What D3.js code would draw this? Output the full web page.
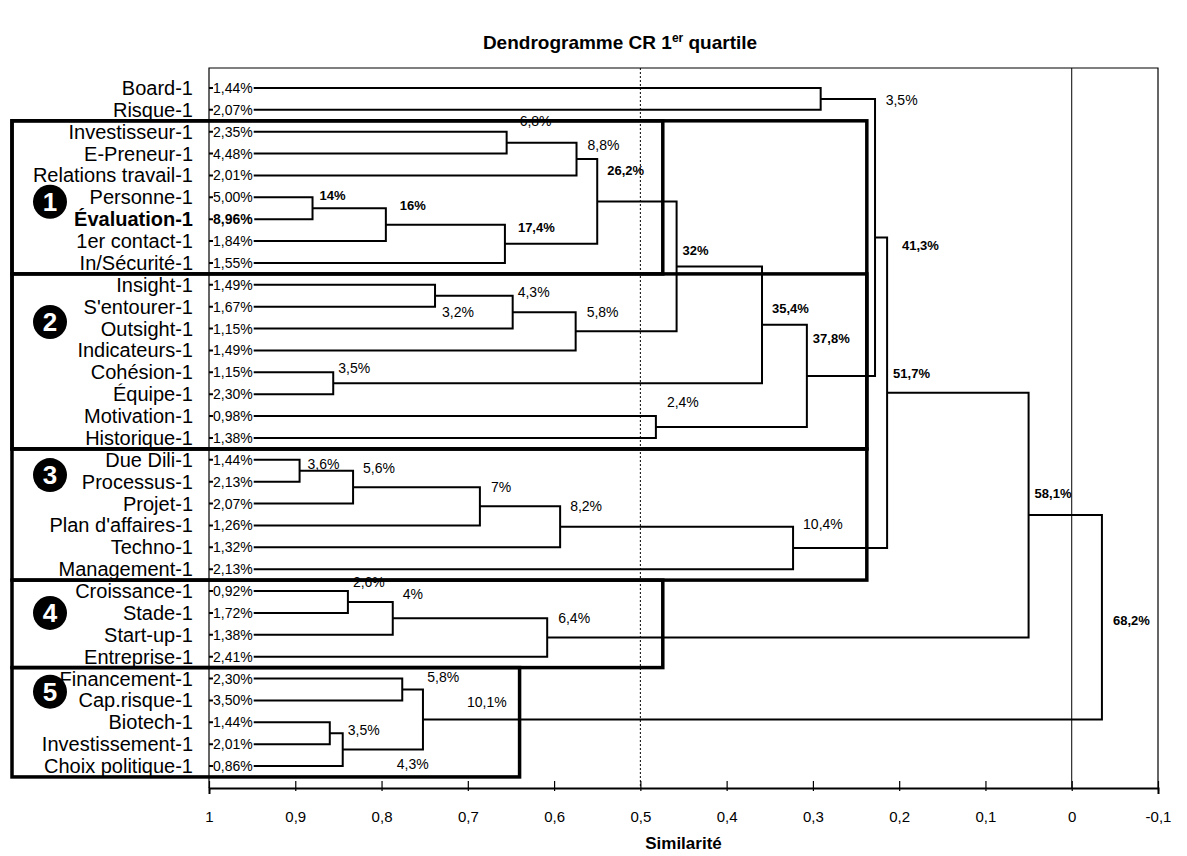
<!DOCTYPE html>
<html>
<head>
<meta charset="utf-8">
<script src="https://cdn.jsdelivr.net/npm/d3@7"></script>
<style>
  body { margin: 0; background: #fff; }
  text { font-family: "Liberation Sans", Arial, sans-serif; fill: #000; }
</style>
</head>
<body>
<div id="chart"></div>
<script>
// feuilles du dendrogramme (ordre d'affichage, de haut en bas)
const leaves = ["Board-1", "Risque-1", "Investisseur-1", "E-Preneur-1", "Relations travail-1",
  "Personne-1", "Évaluation-1", "1er contact-1", "In/Sécurité-1", "Insight-1", "S'entourer-1",
  "Outsight-1", "Indicateurs-1", "Cohésion-1", "Équipe-1", "Motivation-1", "Historique-1",
  "Due Dili-1", "Processus-1", "Projet-1", "Plan d'affaires-1", "Techno-1", "Management-1",
  "Croissance-1", "Stade-1", "Start-up-1", "Entreprise-1", "Financement-1", "Cap.risque-1",
  "Biotech-1", "Investissement-1", "Choix politique-1"]
const leafPct = ["1,44%", "2,07%", "2,35%", "4,48%", "2,01%", "5,00%", "8,96%", "1,84%", "1,55%",
  "1,49%", "1,67%", "1,15%", "1,49%", "1,15%", "2,30%", "0,98%", "1,38%", "1,44%", "2,13%",
  "2,07%", "1,26%", "1,32%", "2,13%", "0,92%", "1,72%", "1,38%", "2,41%", "2,30%", "3,50%",
  "1,44%", "2,01%", "0,86%"]
const boldLeaves = ["Évaluation-1"]

// fusions : indices 0-31 = feuilles, 32+ = noeuds (dans l'ordre de cette liste)
const merges = [[17, 18], [32, 19], [5, 6], [13, 14], [29, 30], [36, 31], [23, 24], [34, 7],
  [38, 25], [27, 28], [41, 37], [9, 10], [33, 20], [2, 3], [39, 8], [43, 11], [44, 21], [40, 26],
  [45, 4], [47, 12], [50, 46], [15, 16], [52, 51], [54, 35], [48, 22], [55, 53], [0, 1], [58, 57],
  [59, 56], [60, 49], [61, 42]]
const mergeSim = [0.895, 0.833, 0.880, 0.856, 0.860, 0.845, 0.839, 0.795, 0.787, 0.776, 0.752,
  0.738, 0.686, 0.655, 0.657, 0.648, 0.593, 0.608, 0.574, 0.575, 0.550, 0.482, 0.458, 0.359,
  0.323, 0.307, 0.291, 0.228, 0.214, 0.050, -0.035]
const mergeLabels = ["3,6%", "5,6%", "14%", "3,5%", "3,5%", "4,3%", "2,6%", "16%", "4%", "5,8%",
  "10,1%", "3,2%", "7%", "6,8%", "17,4%", "4,3%", "8,2%", "6,4%", "8,8%", "5,8%", "26,2%", "2,4%",
  "32%", "35,4%", "10,4%", "37,8%", "3,5%", "41,3%", "51,7%", "58,1%", "68,2%"]
const boldLabels = ["14%", "16%", "17,4%", "26,2%", "32%", "35,4%", "37,8%", "41,3%", "51,7%", "58,1%", "68,2%"]

// groupes encadrés : première / dernière feuille, coupure de similarité (bord droit)
const groupNames = ["1", "", "2", "3", "4", "5"]
const groupFrom = [2, 2, 9, 17, 23, 27]
const groupTo = [8, 16, 16, 22, 26, 31]
const groupCut = [0.474, 0.2375, 0.2375, 0.2375, 0.474, 0.64]

const xTicks = [1, 0.9, 0.8, 0.7, 0.6, 0.5, 0.4, 0.3, 0.2, 0.1, 0, -0.1]

// --- mise en page ---
const W = 1187, H = 856
const PLOT = { LEFT: 209, RIGHT: 1158, TOP: 68, BOTTOM: 788 }
// décalages des étiquettes de noeuds [dx, dy] par rapport au milieu du noeud
const labelOffsets = [[8, -2], [10, -14], [7, -8], [5, -10], [18, 2], [54, 19], [5, -15], [14, -15],
  [10, -19], [25, -7], [44, -13], [7, 21], [11, -14], [13, -17], [13, -12], [5, -15], [10, -16],
  [11, -15], [11, -9], [11, -14], [10, -26], [11, -20], [6, -11], [10, -12], [10, -19], [6, -33],
  [65, 6], [27, 13], [6, -15], [6, -17], [11, 8]]
const badgeRows = [5.2, null, 10.7, 17.7, 24, 27.6]

const svg = d3.select("#chart").append("svg")
  .attr("width", W)
  .attr("height", H)

const x = d3.scaleLinear().domain([1, -0.1]).range([PLOT.LEFT, PLOT.RIGHT])
const y = d3.scalePoint().domain(leaves).range([88, 766])
const step = y.step()

// titre
const title = svg.append("text")
  .attr("x", 620).attr("y", 49)
  .attr("text-anchor", "middle")
  .attr("font-size", "19px").attr("font-weight", "bold")
title.append("tspan").text("Dendrogramme CR 1")
title.append("tspan").attr("font-size", "12px").attr("dy", -7).text("er")
title.append("tspan").attr("dy", 7).text(" quartile")

// cadre du graphique
const frame = svg.append("g").attr("stroke", "#000").attr("fill", "none")
frame.append("path")
  .attr("stroke-width", 1.2)
  .attr("d", `M${PLOT.LEFT},${PLOT.BOTTOM}V${PLOT.TOP}H${PLOT.RIGHT}V${PLOT.BOTTOM}`)
frame.append("line")
  .attr("x1", x(0.5)).attr("x2", x(0.5)).attr("y1", PLOT.TOP).attr("y2", PLOT.BOTTOM)
  .attr("stroke-width", 1).attr("stroke-dasharray", "2,2")
frame.append("line")
  .attr("x1", x(0)).attr("x2", x(0)).attr("y1", PLOT.TOP).attr("y2", PLOT.BOTTOM)
  .attr("stroke-width", 1)

// axe des X
const xAxis = d3.axisBottom(x)
  .tickValues(xTicks)
  .tickFormat(d => String(+d.toFixed(1)).replace(".", ","))
const gx = svg.append("g")
  .attr("transform", `translate(0, ${PLOT.BOTTOM})`)
  .call(xAxis)
gx.select(".domain").attr("stroke-width", 2)
gx.selectAll(".tick line").attr("y1", -7).attr("y2", 3).attr("stroke-width", 1.2)
gx.selectAll(".tick text")
  .attr("y", 23)
  .attr("font-size", "15px")
  .attr("font-family", "Liberation Sans, Arial, sans-serif")
  .attr("fill", "#000")

svg.append("text")
  .attr("x", (PLOT.LEFT + PLOT.RIGHT) / 2).attr("y", 849)
  .attr("text-anchor", "middle")
  .attr("font-size", "17px").attr("font-weight", "bold")
  .text("Similarité")

// positions des noeuds
const nodes = leaves.map((name, i) => ({ x: x(1), y: y(name) }))
merges.forEach(([a, b], i) => {
  nodes.push({ x: x(mergeSim[i]), y: (nodes[a].y + nodes[b].y) / 2, a, b })
})

// branches
const links = svg.append("g").attr("stroke", "#000").attr("stroke-width", 2).attr("fill", "none")
merges.forEach(([a, b], i) => {
  const n = nodes[leaves.length + i]
  const A = nodes[a], B = nodes[b]
  links.append("path")
    .attr("d", `M${A.x},${A.y}H${n.x}V${B.y}H${B.x}`)
})

// pourcentages des feuilles
const leafG = svg.append("g")
leaves.forEach((name, i) => {
  const t = leafG.append("text")
    .attr("x", x(1) + 4).attr("y", y(name) + 5)
    .attr("font-family", "DejaVu Sans, sans-serif")
    .attr("font-size", "14px")
    .attr("font-weight", boldLeaves.includes(name) ? "bold" : "normal")
    .text(leafPct[i])
  const bb = t.node().getBBox()
  leafG.insert("rect", "text")
    .attr("x", bb.x).attr("y", y(name) - 7)
    .attr("width", bb.width + 1).attr("height", 14)
    .attr("fill", "#fff")
})

// étiquettes des noeuds
merges.forEach((m, i) => {
  const n = nodes[leaves.length + i]
  const bold = boldLabels.includes(mergeLabels[i])
  svg.append("text")
    .attr("x", n.x + labelOffsets[i][0])
    .attr("y", n.y + labelOffsets[i][1])
    .attr("font-size", bold ? "13px" : "14px")
    .attr("font-weight", bold ? "bold" : "normal")
    .text(mergeLabels[i])
})

// noms des feuilles
svg.append("g").selectAll("text")
  .data(leaves)
  .join("text")
  .attr("x", 193).attr("y", d => y(d) + 7)
  .attr("text-anchor", "end")
  .attr("font-size", "20px")
  .attr("font-weight", d => boldLeaves.includes(d) ? "bold" : "normal")
  .text(d => d)

// cadres des groupes
const boxes = svg.append("g").attr("stroke", "#000").attr("stroke-width", 3.5).attr("fill", "none")
groupNames.forEach((g, i) => {
  const top = y(leaves[groupFrom[i]]) - step / 2
  const bottom = y(leaves[groupTo[i]]) + step / 2
  boxes.append("rect")
    .attr("x", 12).attr("y", top)
    .attr("width", x(groupCut[i]) - 12).attr("height", bottom - top)
})

// pastilles numérotées
groupNames.forEach((g, i) => {
  if (!g) return
  const cy = y.range()[0] + badgeRows[i] * step
  svg.append("circle").attr("cx", 50).attr("cy", cy).attr("r", 17).attr("fill", "#000")
  svg.append("text")
    .attr("x", 50).attr("y", cy + 9)
    .attr("text-anchor", "middle")
    .attr("font-size", "26px").attr("font-weight", "bold")
    .attr("font-family", g === "1" ? "Liberation Serif, serif" : "Liberation Sans, Arial, sans-serif")
    .style("fill", "#fff")
    .text(g)
})
</script>
</body>
</html>
